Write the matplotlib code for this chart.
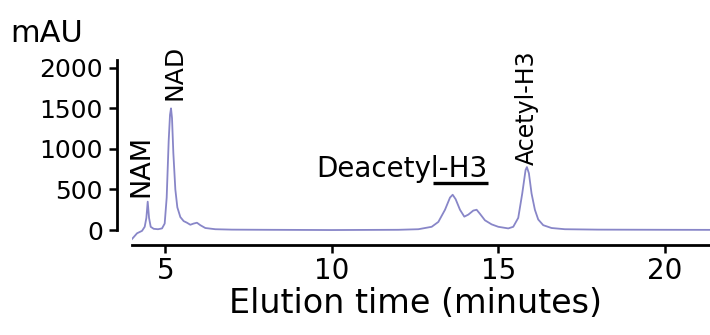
import matplotlib
matplotlib.use("Agg")
import matplotlib.pyplot as plt

plt.rcParams['font.family'] = ['DejaVu Sans']

# chromatogram trace (minutes, mAU)
time_min = [4.0, 4.15, 4.3, 4.38, 4.43, 4.47, 4.51, 4.56, 4.65, 4.78, 4.9,
            4.98, 5.04, 5.1, 5.14, 5.17, 5.2, 5.24, 5.3, 5.36, 5.45, 5.55,
            5.65, 5.75, 5.85, 5.95, 6.05, 6.2, 6.5, 7.0, 8.0, 10.0, 12.0,
            12.6, 13.0, 13.2, 13.4, 13.55, 13.63, 13.72, 13.85, 13.98, 14.1,
            14.25, 14.35, 14.45, 14.6, 14.8, 15.0, 15.3, 15.45, 15.6, 15.72,
            15.82, 15.86, 15.92, 16.0, 16.1, 16.2, 16.35, 16.6, 17.0, 18.0,
            20.0, 21.4]
absorbance = [-110, -40, -10, 40, 150, 350, 150, 40, 15, 10, 20,
              80, 400, 1100, 1420, 1500, 1380, 950, 500, 280, 160, 110,
              90, 65, 80, 90, 60, 25, 10, 5, 3, 0, 3,
              10, 40, 100, 250, 400, 435, 380, 250, 165, 190,
              240, 250, 200, 120, 70, 40, 20, 40, 150, 450,
              740, 776, 700, 450, 250, 130, 60, 25, 10, 5,
              3, 2]

x_ticks = [5, 10, 15, 20]
y_ticks = [0, 500, 1000, 1500, 2000]

# peak labels: text, x, y, fontsize
peak_labels = [("NAM", 4.29, 410, 19.5),
               ("NAD", 5.27, 1600, 18),
               ("Acetyl-H3", 15.87, 800, 17)]

fig = plt.figure(figsize=(7.1, 3.35), dpi=100)
ax = fig.add_axes([0.186, 0.277, 0.814, 0.557])

ax.plot(time_min, absorbance, color='#8886c8', lw=1.3)

ax.set_xlim(4.0, 21.36)
ax.set_ylim(-150, 2150)
ax.set_xticks(x_ticks)
ax.set_yticks(y_ticks)

for side in ['top', 'right']:
    ax.spines[side].set_visible(False)
ax.spines['left'].set_position(('outward', 11))
ax.spines['bottom'].set_position(('outward', 2))
ax.spines['left'].set_bounds(0, 2100)
for side in ['left', 'bottom']:
    ax.spines[side].set_linewidth(2.0)

ax.tick_params(axis='both', direction='out', length=6, width=1.8, colors='black')
ax.tick_params(axis='y', labelsize=18, pad=4)
ax.tick_params(axis='x', labelsize=20, pad=3)

ax.set_xlabel('Elution time (minutes)', fontsize=24)
ax.xaxis.set_label_coords(0.49, -0.24)
fig.text(10 / 710, 1 - 42 / 335, 'mAU', fontsize=22, va='baseline', ha='left')

for text, x, y, size in peak_labels:
    ax.text(x, y, text, rotation=90, ha='center', va='bottom', fontsize=size)

ax.text(12.1, 653, 'Deacetyl-H3', ha='center', va='baseline', fontsize=20)
ax.plot([13.03, 14.68], [580, 580], color='black', lw=2.4, solid_capstyle='butt')

fig.savefig('out.png', dpi=100)
